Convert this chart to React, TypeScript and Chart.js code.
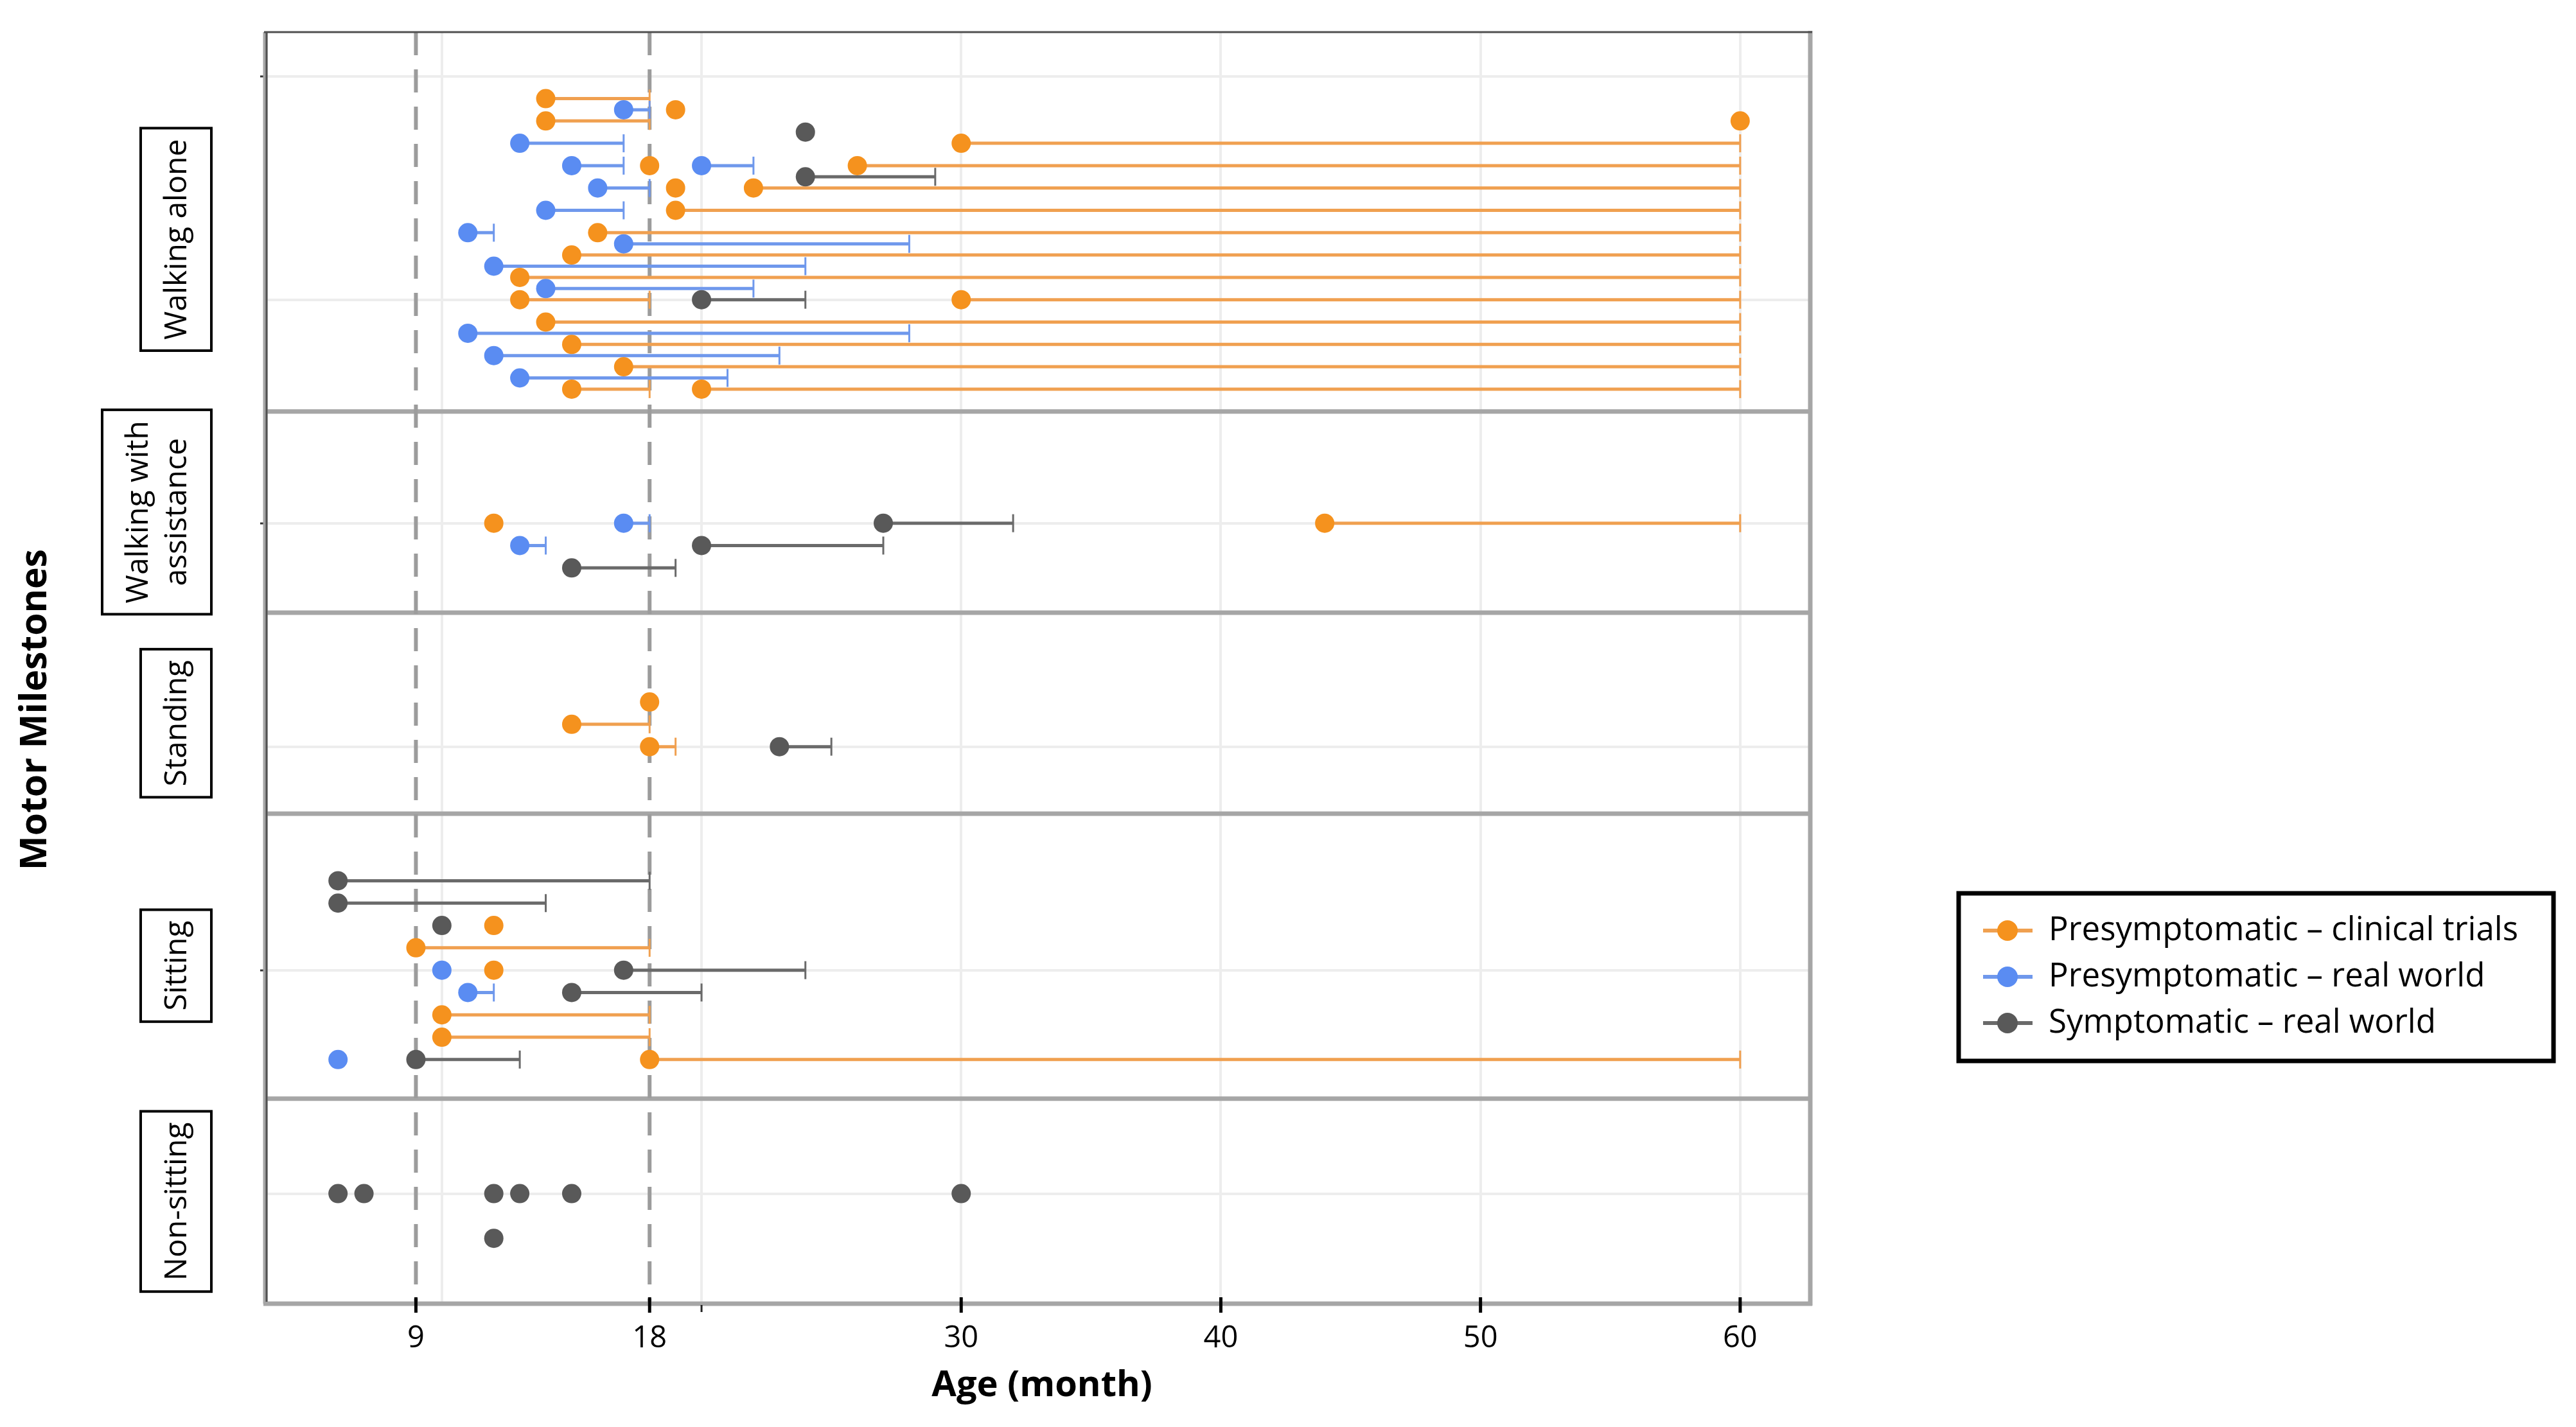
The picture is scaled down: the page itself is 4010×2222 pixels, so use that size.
import React, { useEffect, useRef } from "react";
import { Chart, registerables } from "chart.js";

Chart.register(...registerables);

// ---------------- data ----------------
const milestones = ["Walking alone", "Walking with\nassistance", "Standing", "Sitting", "Non-sitting"];
// y value (row units) where each milestone label is centred
const milestoneLabelAt = [95.4, 71, 52.1, 30.4, 9.3];
// y values separating the milestone panels
const panelBounds = [80, 62, 44, 18.5];
// reference ages drawn as dashed lines
const referenceAges = [9, 18];
// x axis ticks
const xTickValues = [9, 18, 20, 30, 40, 50, 60];
const xTickLabels = ["9", "18", "", "30", "40", "50", "60"];
const xGridValues = [10, 20, 30, 40, 50, 60];
const yGridValues = [10, 30, 50, 70, 90, 110];
const yTickMarkValues = [30, 70, 110];

const seriesNames = [
  "Presymptomatic \u2013 clinical trials",
  "Presymptomatic \u2013 real world",
  "Symptomatic \u2013 real world",
];

// [row, age (month), end of range (month) or null]
const clinicalTrials: [number, number, number | null][] = [
  [108, 14, 18], [107, 19, null], [106, 14, 18], [106, 60, null], [104, 30, 60],
  [102, 18, null], [102, 26, 60], [100, 19, null], [100, 22, 60], [98, 19, 60],
  [96, 16, 60], [94, 15, 60], [92, 13, 60], [90, 13, 18], [90, 30, 60],
  [88, 14, 60], [86, 15, 60], [84, 17, 60], [82, 15, 18], [82, 20, 60],
  [70, 12, null], [70, 44, 60],
  [54, 18, null], [52, 15, 18], [50, 18, 19],
  [34, 12, null], [32, 9, 18], [30, 12, null], [26, 10, 18], [24, 10, 18], [22, 18, 60],
];

const realWorldPresymptomatic: [number, number, number | null][] = [
  [107, 17, 18], [104, 13, 17], [102, 15, 17], [102, 20, 22], [100, 16, 18],
  [98, 14, 17], [96, 11, 12], [95, 17, 28], [93, 12, 24], [91, 14, 22],
  [87, 11, 28], [85, 12, 23], [83, 13, 21],
  [70, 17, 18], [68, 13, 14],
  [30, 10, null], [28, 11, 12], [22, 6, null],
];

const symptomaticRealWorld: [number, number, number | null][] = [
  [105, 24, null], [101, 24, 29], [90, 20, 24],
  [70, 27, 32], [68, 20, 27], [66, 15, 19],
  [50, 23, 25],
  [38, 6, 18], [36, 6, 14], [34, 10, null], [30, 17, 24], [28, 15, 20], [22, 9, 13],
  [10, 6, null], [10, 7, null], [10, 12, null], [10, 13, null], [10, 15, null], [10, 30, null],
  [6, 12, null],
];

// ---------------- styles ----------------
const W = 4010;
const H = 2222;
const FONT = "'Open Sans', 'Noto Sans', sans-serif";
const dotColors = ["#F5921E", "#5A8CF2", "#595959"];
const barColors = ["#F0A050", "#6F98EC", "#6A6A6A"];

export default function App() {
  const ref = useRef<HTMLCanvasElement>(null);

  useEffect(() => {
    let chart: Chart | null = null;
    let cancelled = false;

    const build = () => {
      if (cancelled || !ref.current) return;
      const toPoints = (rows: [number, number, number | null][]) =>
        rows.map(([y, x, end]) => ({ x, y, end }));
      const allSeries = [clinicalTrials, realWorldPresymptomatic, symptomaticRealWorld];

      const line = (ctx: CanvasRenderingContext2D, x1: number, y1: number, x2: number, y2: number) => {
        ctx.beginPath();
        ctx.moveTo(x1, y1);
        ctx.lineTo(x2, y2);
        ctx.stroke();
      };

      const decor = {
        id: "decor",
        beforeDatasetsDraw(c: any) {
          const { ctx, chartArea: a, scales } = c;
          const xs = scales.x;
          const ys = scales.y;
          ctx.save();
          ctx.lineCap = "butt";
          // panel separators
          ctx.strokeStyle = "#a6a6a6";
          ctx.lineWidth = 7;
          panelBounds.forEach((v) => {
            const py = ys.getPixelForValue(v);
            line(ctx, a.left, py, a.right, py);
          });
          // reference dashed lines
          ctx.setLineDash([36, 22]);
          ctx.strokeStyle = "#9c9c9c";
          ctx.lineWidth = 6;
          referenceAges.forEach((v) => {
            const px = xs.getPixelForValue(v);
            line(ctx, px, a.top, px, a.bottom);
          });
          ctx.setLineDash([]);
          // one-sided range bars
          c.data.datasets.forEach((ds: any, i: number) => {
            ctx.strokeStyle = barColors[i];
            ds.data.forEach((p: any) => {
              if (p.end == null) return;
              const px0 = xs.getPixelForValue(p.x);
              const px1 = xs.getPixelForValue(p.end);
              const py = ys.getPixelForValue(p.y);
              ctx.lineWidth = 5;
              line(ctx, px0, py, px1, py);
              ctx.lineWidth = 3;
              line(ctx, px1, py - 14, px1, py + 14);
            });
          });
          ctx.restore();
        },
        afterDatasetsDraw(c: any) {
          const { ctx, chartArea: a, scales } = c;
          const xs = scales.x;
          ctx.save();
          // frame
          ctx.strokeStyle = "#a6a6a6";
          ctx.lineWidth = 7;
          line(ctx, a.right, a.top - 2, a.right, a.bottom + 3);
          line(ctx, a.left - 3, a.bottom, a.right + 3, a.bottom);
          line(ctx, a.left, a.top, a.left, a.bottom);
          ctx.strokeStyle = "#505050";
          ctx.lineWidth = 3;
          line(ctx, a.left + 2, a.top, a.left + 2, a.bottom - 3);
          line(ctx, a.left - 2, a.top, a.right + 3, a.top);
          // x tick marks
          xTickValues.forEach((v, i) => {
            const px = xs.getPixelForValue(v);
            if (xTickLabels[i]) {
              ctx.strokeStyle = "#000";
              ctx.lineWidth = 5;
              line(ctx, px, a.bottom - 10, px, a.bottom + 14);
            } else {
              ctx.strokeStyle = "#222";
              ctx.lineWidth = 3;
              line(ctx, px, a.bottom + 2, px, a.bottom + 13);
            }
          });
          ctx.restore();
        },
        afterDraw(c: any) {
          const { ctx, scales } = c;
          const ys = scales.y;
          ctx.save();
          // milestone labels in boxes
          const fs = 48;
          const lineH = 60;
          const pad = 25;
          ctx.font = `${fs}px ${FONT}`;
          milestones.forEach((m, i) => {
            const lines = m.split("\n");
            const tw = Math.max(...lines.map((t) => ctx.measureText(t).width));
            const bh = tw + 34;
            const bw = lines.length * lineH + 2 * pad;
            const right = 329;
            const cx = right - bw / 2;
            const cy = ys.getPixelForValue(milestoneLabelAt[i]);
            ctx.fillStyle = "#fff";
            ctx.fillRect(cx - bw / 2, cy - bh / 2, bw, bh);
            ctx.strokeStyle = "#000";
            ctx.lineWidth = 4;
            ctx.strokeRect(cx - bw / 2, cy - bh / 2, bw, bh);
            ctx.save();
            ctx.translate(cx, cy);
            ctx.rotate(-Math.PI / 2);
            ctx.fillStyle = "#000";
            ctx.textAlign = "center";
            ctx.textBaseline = "middle";
            lines.forEach((t, k) => {
              const off = (k - (lines.length - 1) / 2) * lineH;
              ctx.fillText(t, 0, off + 2);
            });
            ctx.restore();
          });
          // y title
          ctx.save();
          ctx.translate(56, 1105);
          ctx.rotate(-Math.PI / 2);
          ctx.font = `bold 57px ${FONT}`;
          ctx.fillStyle = "#000";
          ctx.textAlign = "center";
          ctx.textBaseline = "middle";
          ctx.fillText("Motor Milestones", 0, 0);
          ctx.restore();
          // x title
          ctx.font = `bold 56px ${FONT}`;
          ctx.fillStyle = "#000";
          ctx.textAlign = "center";
          ctx.textBaseline = "middle";
          ctx.fillText("Age (month)", 1622, 2158);
          // legend
          const lx = 3049, ly = 1391, lw = 926, lh = 261;
          ctx.fillStyle = "#fff";
          ctx.fillRect(lx, ly, lw, lh);
          ctx.strokeStyle = "#000";
          ctx.lineWidth = 7;
          ctx.strokeRect(lx, ly, lw, lh);
          ctx.font = `51px ${FONT}`;
          ctx.textAlign = "left";
          seriesNames.forEach((name, i) => {
            const ey = 1449 + i * 72;
            ctx.strokeStyle = barColors[i];
            ctx.lineWidth = 6;
            line(ctx, 3087, ey, 3164, ey);
            ctx.fillStyle = dotColors[i];
            ctx.beginPath();
            ctx.arc(3125, ey, 16, 0, Math.PI * 2);
            ctx.fill();
            ctx.fillStyle = "#000";
            ctx.fillText(name, 3189, ey);
          });
          ctx.restore();
        },
      };

      chart = new Chart(ref.current, {
        type: "scatter",
        data: {
          datasets: allSeries.map((s, i) => ({
            label: seriesNames[i],
            data: toPoints(s) as any,
            pointRadius: 15,
            pointHoverRadius: 15,
            pointBackgroundColor: dotColors[i],
            pointBorderWidth: 0,
            borderColor: dotColors[i],
            showLine: false,
          })),
        },
        options: {
          animation: false,
          responsive: false,
          devicePixelRatio: 1,
          events: [],
          layout: { padding: { left: 413, top: 50, right: W - 2818, bottom: 0 } },
          plugins: { legend: { display: false }, tooltip: { enabled: false } },
          scales: {
            x: {
              type: "linear",
              min: 3.2,
              max: 62.7,
              afterBuildTicks: (s: any) => {
                const vals = Array.from(new Set([...xTickValues, ...xGridValues])).sort((p, q) => p - q);
                s.ticks = vals.map((v) => ({ value: v }));
              },
              afterFit: (s: any) => {
                s.height = H - 2030;
              },
              ticks: {
                autoSkip: false,
                maxRotation: 0,
                padding: 26,
                color: "#000",
                font: { family: FONT, size: 47 },
                callback: (v: any) => {
                  const i = xTickValues.indexOf(Number(v));
                  return i >= 0 ? xTickLabels[i] : "";
                },
              },
              grid: {
                drawTicks: false,
                lineWidth: 4,
                color: (ctx: any) =>
                  ctx.tick && xGridValues.includes(ctx.tick.value) ? "#ededed" : "rgba(0,0,0,0)",
              },
              border: { display: false },
            },
            y: {
              type: "linear",
              min: 0.15,
              max: 113.95,
              afterBuildTicks: (s: any) => {
                s.ticks = yGridValues.map((v) => ({ value: v }));
              },
              afterFit: (s: any) => {
                s.width = 0;
              },
              ticks: { display: false },
              grid: {
                drawTicks: true,
                tickLength: 8,
                tickWidth: 3,
                tickColor: (ctx: any) =>
                  ctx.tick && yTickMarkValues.includes(ctx.tick.value) ? "#333" : "rgba(0,0,0,0)",
                lineWidth: 4,
                color: "#ededed",
              },
              border: { display: false },
            },
          },
        },
        plugins: [decor],
      });
    };

    const fontsReady = (document as any).fonts
      ? Promise.all([
          (document as any).fonts.load(`48px 'Open Sans'`),
          (document as any).fonts.load(`bold 52px 'Open Sans'`),
        ]).catch(() => null)
      : Promise.resolve(null);
    fontsReady.then(build);

    return () => {
      cancelled = true;
      if (chart) chart.destroy();
    };
  }, []);

  return (
    <div style={{ position: "fixed", left: 0, top: 0, width: W, height: H, background: "#fff" }}>
      <canvas ref={ref} width={W} height={H} style={{ display: "block", width: W, height: H }} />
    </div>
  );
}
